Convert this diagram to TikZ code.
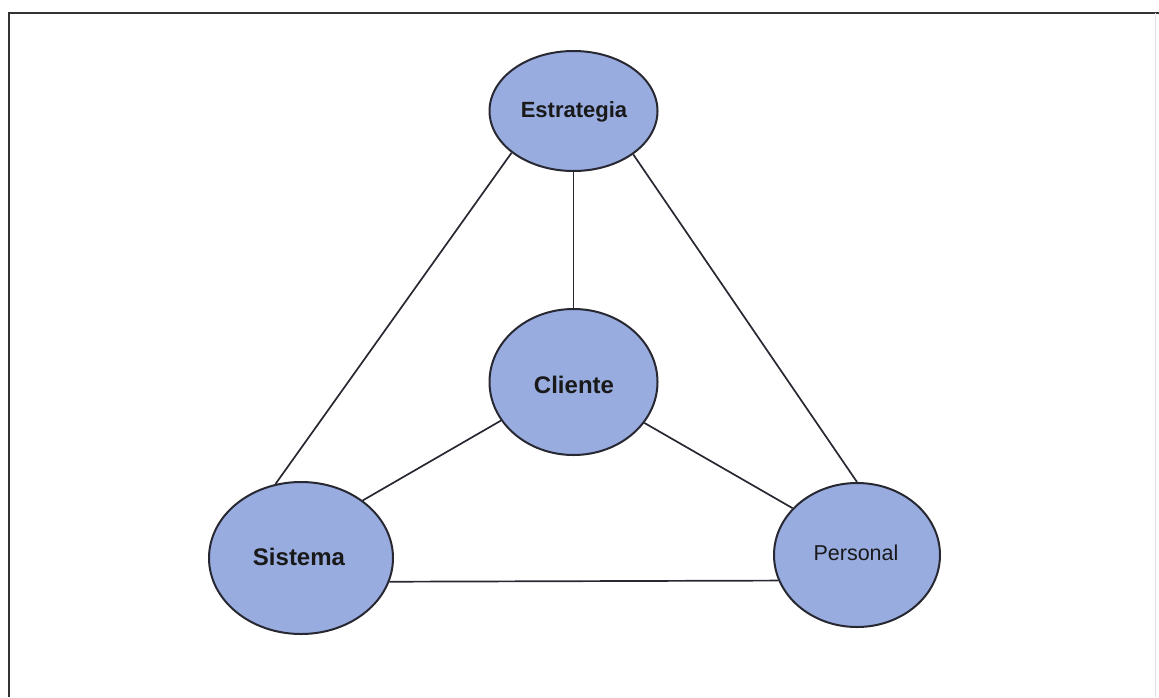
\documentclass[tikz,border=0pt]{standalone}
\usepackage{fontspec}
\setmainfont{Liberation Sans}
\usetikzlibrary{shapes.geometric}
\definecolor{bubble}{RGB}{152,172,224}
\definecolor{edge}{RGB}{40,40,50}
\tikzset{
  bub/.style={ellipse, draw=edge, line width=2pt, fill=bubble, inner sep=0pt},
  link/.style={draw=edge, line width=1.7pt},
}
\begin{document}
\begin{tikzpicture}[x=1pt,y=-1pt]
\useasboundingbox (0,0) rectangle (1159,697);
% frame
\draw[line width=2.8pt, draw=black!80] (9,697) -- (9,13) -- (1159,13);
\draw[line width=1pt, draw=black!12] (1155,13) -- (1155,697);
% nodes
\node[bub, minimum width=168pt, minimum height=120pt] (est) at (573.5,111) {};
\node[bub, minimum width=168pt, minimum height=146pt] (cli) at (573.5,382) {};
\node[bub, minimum width=184pt, minimum height=152pt] (sis) at (301,558) {};
\node[bub, minimum width=166pt, minimum height=144pt] (per) at (857,555) {};
% connectors
\draw[link] (est.214) -- (sis.109);
\draw[link] (est.south) -- (cli.north);
\draw[link] (est.324) -- (per.north);
\draw[link] (cli.208) -- (sis.43);
\draw[link] (cli.330) -- (per.144);
\draw[link] (sis.-15) -- (per.198);
% labels
\node[font=\fontsize{22}{22}\selectfont\bfseries, text=black!90] (tEst) at (574,112) {Estrategia};
\node[font=\fontsize{24}{24}\selectfont\bfseries, text=black!90] (tCli) at (574,385) {Cliente};
\node[font=\fontsize{24}{24}\selectfont\bfseries, text=black!90] (tSis) at (299,557) {Sistema};
\node[font=\fontsize{21.5}{21.5}\selectfont, text=black!90] (tPer) at (856,553) {Personal};
\end{tikzpicture}
\end{document}
